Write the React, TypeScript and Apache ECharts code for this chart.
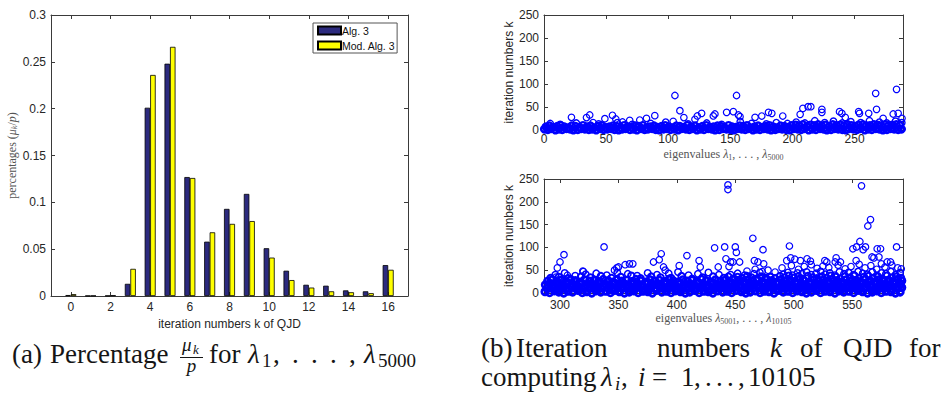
import { useEffect, useRef } from 'react';
import * as echarts from 'echarts';

// ---- Histogram: share of eigenvalues needing k QJD iterations ----
const iterK = [0, 1, 2, 3, 4, 5, 6, 7, 8, 9, 10, 11, 12, 13, 14, 15, 16];
const alg3 = [0.001, 0.0003, 0.0004, 0.013, 0.201, 0.248, 0.127, 0.058, 0.093, 0.109, 0.051, 0.027, 0.012, 0.011, 0.006, 0.005, 0.033];
const modAlg3 = [0.002, 0.0004, 0.0008, 0.029, 0.236, 0.266, 0.126, 0.068, 0.077, 0.080, 0.041, 0.017, 0.009, 0.005, 0.004, 0.003, 0.028];
const iterTicks = [0, 2, 4, 6, 8, 10, 12, 14, 16];

// ---- Iteration numbers per eigenvalue, lambda_1 .. lambda_5000 (flat x,y lists) ----
const upperBandLow = [0.3,2, 3.1,1, 5.8,3, 9.2,0, 12,2, 14.7,1, 18.1,3, 21,2, 23.6,0, 27.2,1, 30,3, 32.9,2, 36.1,1, 38.8,2, 42,0, 45.3,3, 47.9,1, 51,2, 54.2,3, 56.8,1, 60.1,0, 63,2, 65.7,3, 69.2,1, 72,2, 74.8,0, 78.1,3, 81,1, 83.7,2, 87.1,3, 90,1, 92.8,0, 96.2,2, 99,3, 101.7,1, 105.1,2, 108,0, 110.8,3, 114.2,2, 117,1, 119.9,3, 123.1,0, 126,2, 128.8,1, 132.2,3, 135,2, 137.7,0, 141.1,1, 144,3, 146.9,2, 150.2,1, 153,0, 155.8,3, 159.1,2, 162,1, 164.7,3, 168.2,0, 171,2, 173.9,1, 177.1,3, 180,2, 182.8,0, 186.2,1, 189,3, 191.7,2, 195.1,1, 198,0, 200.9,3, 204.2,2, 207,1, 209.8,3, 213.1,0, 216,2, 218.9,1, 222.2,3, 225,2, 227.7,0, 231.1,1, 234,3, 236.9,2, 240.2,1, 243,0, 245.8,3, 249.1,2, 252,1, 254.8,3, 258.2,0, 261,2, 263.9,1, 267.1,3, 270,2, 272.8,0, 276.1,1, 279,3, 281.9,2, 285.1,1, 287.8,2];
const upperBandHigh = [1.6,7, 4.4,9, 7.5,6, 10.6,8, 13.3,10, 16.4,7, 19.5,5, 22.3,9, 25.4,8, 28.6,6, 31.4,10, 34.5,7, 37.4,9, 40.6,5, 43.6,8, 46.5,10, 49.4,6, 52.6,7, 55.5,9, 58.4,8, 61.6,5, 64.5,10, 67.4,7, 70.6,6, 73.5,9, 76.4,8, 79.6,10, 82.4,5, 85.5,7, 88.6,9, 91.4,6, 94.6,8, 97.5,10, 100.4,7, 103.6,5, 106.5,9, 109.4,8, 112.6,6, 115.5,10, 118.4,7, 121.6,9, 124.5,5, 127.4,8, 130.6,10, 133.5,6, 136.4,7, 139.6,9, 142.5,8, 145.4,5, 148.6,10, 151.5,7, 154.4,6, 157.6,9, 160.5,8, 163.4,10, 166.6,5, 169.5,7, 172.4,9, 175.6,6, 178.5,8, 181.4,10, 184.6,7, 187.5,5, 190.4,9, 193.6,8, 196.5,6, 199.4,10, 202.6,11, 205.5,9, 208.4,12, 211.6,8, 214.5,11, 217.4,10, 220.6,12, 223.5,9, 226.4,11, 229.6,8, 232.5,12, 235.4,10, 238.6,11, 241.5,9, 244.4,12, 247.6,10, 250.5,8, 253.4,11, 256.6,12, 259.5,9, 262.4,10, 265.6,12, 268.5,11, 271.4,9, 274.6,12, 277.5,10, 280.4,11, 283.6,12, 286.5,10];
const upperMid = [5,14, 13,12, 26,15, 44,13, 59,16, 71,12, 86,14, 98,17, 116,13, 131,15, 143,12, 158,18, 167,14, 179,13, 187,16, 196,14, 203,17, 210,15, 218,20, 226,16, 233,19, 240,15, 247,18, 255,16, 262,20, 270,17, 276,15, 283,19, 288,16];
const upperSparse = [22.1,27.6, 34.2,27, 36.8,32.6, 39.5,16, 49,24.6, 55.1,32, 57.8,24, 63.2,17.4, 69,21, 77.1,21.7, 82.5,25.4, 89.2,31.2, 104,18.8, 105.4,75, 109.4,42, 112.6,27, 121.5,23.3, 123.4,30.5, 126.9,36.2, 136.3,30.5, 137.6,34.8, 147,38.4, 152.4,39.9, 155,75, 156.5,32.6, 157.8,29, 169.9,27.6, 175.3,30.4, 180.7,38.4, 183.4,36.2, 192.2,30.4, 206.2,34, 208.4,47, 212.6,50.7, 214.8,50.7, 223.7,44.9, 223.7,38.4, 237.9,39.9, 239.8,36.2, 242.5,27.5, 253.3,39.9, 254,36.2, 261.4,36.2, 267,79.7, 267.7,44.9, 273,25.4, 281.1,34.8, 283.8,88.4, 285.1,36.2, 288.2,25.4];
const upperTicks = [0, 50, 100, 150, 200, 250];

// ---- Iteration numbers per eigenvalue, lambda_5001 .. lambda_10105 ----
const lowerRowA = [287.2,3, 291.1,1, 295.3,5, 299.0,2, 303.2,0, 307.1,4, 310.8,2, 315.2,6, 319.1,1, 322.9,3, 327.2,0, 331.0,5, 334.9,2, 339.1,4, 343.2,1, 347.0,6, 350.8,3, 355.1,0, 359.2,2, 363.0,5, 366.9,1, 371.1,4, 375.2,3, 379.0,0, 382.8,6, 387.1,2, 391.2,4, 395.0,1, 398.9,5, 403.1,3, 407.2,0, 411.0,2, 414.9,6, 419.1,1, 423.2,4, 427.0,3, 430.8,0, 435.1,5, 439.2,2, 443.0,4, 446.9,1, 451.1,6, 455.2,3, 459.0,0, 462.8,2, 467.1,5, 471.2,1, 475.0,4, 478.9,3, 483.1,0, 487.2,6, 491.0,2, 494.9,4, 499.1,1, 503.2,5, 507.0,3, 510.8,0, 515.1,2, 519.2,6, 523.0,1, 526.9,4, 531.1,3, 535.2,0, 539.0,5, 542.8,2, 547.1,4, 551.2,1, 555.0,6, 558.9,3, 563.1,0, 567.2,2, 571.0,5, 574.9,1, 579.1,4, 583.2,3, 587.0,0, 591.0,2];
const lowerRowB = [289.1,10, 293.0,13, 297.2,8, 301.1,12, 304.9,9, 309.2,14, 313.0,11, 316.8,8, 321.1,13, 325.2,10, 329.0,12, 332.9,9, 337.1,14, 341.0,11, 344.8,8, 349.2,12, 353.1,10, 357.0,13, 360.9,9, 365.1,11, 369.2,14, 373.0,8, 376.8,12, 381.1,10, 385.2,13, 389.0,9, 392.9,11, 397.1,14, 401.0,8, 404.8,12, 409.2,10, 413.1,13, 417.0,9, 420.9,11, 425.1,14, 429.2,8, 433.0,12, 436.8,10, 441.1,13, 445.2,9, 449.0,11, 452.9,14, 457.1,8, 461.0,12, 464.8,10, 469.2,13, 473.1,9, 477.0,11, 480.9,14, 485.1,8, 489.2,12, 493.0,10, 496.8,13, 501.1,9, 505.2,11, 509.0,14, 512.9,8, 517.1,12, 521.0,10, 524.8,13, 529.2,9, 533.1,11, 537.0,14, 540.9,8, 545.1,12, 549.2,10, 553.0,13, 556.8,9, 561.1,11, 565.2,14, 569.0,8, 572.9,12, 577.1,10, 581.0,13, 584.8,9, 589.2,11, 592.4,12];
const lowerRowC = [287.5,18, 291.4,21, 295.0,16, 299.3,20, 303.1,17, 306.9,22, 311.2,19, 315.0,16, 318.8,21, 323.1,18, 327.0,20, 331.2,17, 335.1,22, 338.9,19, 343.0,16, 347.2,21, 351.1,18, 354.9,20, 359.0,17, 363.2,22, 367.1,19, 370.9,16, 375.0,21, 379.2,18, 383.1,20, 386.9,17, 391.0,22, 395.2,19, 399.1,16, 402.9,21, 407.0,18, 411.2,20, 415.1,17, 418.9,22, 423.0,19, 427.2,16, 431.1,21, 434.9,18, 439.0,20, 443.2,17, 447.1,22, 450.9,19, 455.0,16, 459.2,21, 463.1,18, 466.9,20, 471.0,17, 475.2,22, 479.1,19, 482.9,16, 487.0,21, 491.2,18, 495.1,20, 498.9,17, 503.0,22, 507.2,19, 511.1,16, 514.9,21, 519.0,18, 523.2,20, 527.1,17, 530.9,22, 535.0,19, 539.2,16, 543.1,21, 546.9,18, 551.0,20, 555.2,17, 559.1,22, 562.9,19, 567.0,16, 571.2,21, 575.1,18, 578.9,20, 583.0,17, 587.2,22, 591.1,19];
const lowerRowD = [289.4,26, 293.2,29, 297.1,24, 300.9,28, 305.0,25, 309.2,30, 313.1,27, 316.9,24, 321.0,29, 325.2,26, 329.1,28, 332.9,25, 337.0,30, 341.2,27, 345.1,24, 348.9,29, 353.0,26, 357.2,28, 361.1,25, 364.9,30, 369.0,27, 373.2,24, 377.1,29, 380.9,26, 385.0,28, 389.2,25, 393.1,30, 396.9,27, 401.0,24, 405.2,29, 409.1,26, 412.9,28, 417.0,25, 421.2,30, 425.1,27, 428.9,24, 433.0,29, 437.2,26, 441.1,28, 444.9,25, 449.0,30, 453.2,27, 457.1,24, 460.9,29, 465.0,26, 469.2,28, 473.1,25, 476.9,30, 481.0,27, 485.2,24, 489.1,29, 492.9,26, 497.0,28, 501.2,25, 505.1,30, 508.9,27, 513.0,24, 517.2,29, 521.1,26, 524.9,28, 529.0,25, 533.2,30, 537.1,27, 540.9,24, 545.0,29, 549.2,26, 553.1,28, 556.9,25, 561.0,30, 565.2,27, 569.1,24, 572.9,29, 577.0,26, 581.2,28, 585.1,25, 589.0,30, 592.5,27];
const lowerRowE = [440.2,33, 444.1,36, 448.0,31, 451.9,35, 456.1,32, 460.0,37, 463.8,34, 468.1,31, 472.0,36, 475.9,33, 480.1,35, 484.0,32, 488.2,37, 492.0,34, 495.9,38, 500.1,33, 504.0,36, 507.8,31, 512.1,37, 516.0,34, 519.9,32, 524.1,36, 528.0,33, 531.8,38, 536.1,35, 540.0,31, 543.9,36, 548.1,34, 552.0,38, 555.8,32, 560.1,35, 564.0,37, 567.9,33, 572.1,36, 576.0,31, 579.8,38, 584.1,34, 588.0,36, 591.8,33, 292,33, 299,35, 307,32, 318,36, 326,34, 335,37, 344,33, 352,35, 361,38, 369,32, 378,36, 386,34, 395,33, 404,37, 413,31, 422,34, 431,36];
const lowerRowF = [491.1,41, 495.0,45, 498.9,39, 503.2,44, 507.1,42, 511.0,46, 514.9,40, 519.2,43, 523.1,47, 527.0,41, 530.9,44, 535.2,39, 539.1,46, 543.0,42, 546.9,45, 551.2,40, 555.1,47, 559.0,43, 562.9,41, 567.2,46, 571.1,39, 575.0,44, 578.9,42, 583.2,47, 587.1,40, 591.0,45, 446,40, 452,43, 458,39, 466,42, 471,45, 296,40, 304,44, 313,38, 322,41, 331,43, 340,39, 349,45, 358,42, 366,38, 375,44, 383,40, 393,43, 401,46, 410,39, 418,42, 427,45, 436,40];
const lowerSparse = [443.7,237, 443.7,227, 558,235, 565.7,161, 563.4,147, 556.6,113, 550.6,97, 553.7,101, 559.4,95, 561.4,101, 571.4,97, 574.3,97, 588,101, 465,120, 432.3,99, 440.9,101, 450,101, 450.9,89, 473.7,95, 496.3,103, 337.7,101, 303.4,84, 300,68, 297.7,55, 386.6,86, 384.9,73, 380,68, 388.6,57, 390,50, 408.6,82, 402,60, 419,71, 420,57, 442,75, 453.7,68, 444.6,58, 466.3,71, 469.4,68, 474.3,64, 435.4,57, 494,71, 501,74, 505.7,71, 511.4,75, 514.3,70, 526.6,71, 536.3,77, 540,68, 553.4,71, 568.6,77, 572.9,79, 582.9,68, 592,53, 575,64, 348.6,55, 355.7,62, 359.4,64, 362.3,64, 346.6,50, 320,47, 306.3,39, 296.6,35, 319.5,48, 350,57, 446,68, 448,68, 497.4,77, 528.3,68, 535.5,68, 567,79, 579.9,68, 490,55, 498,60, 504,52, 509,58, 515,62, 520,54, 525,59, 530,56, 538,61, 544,53, 549,58, 556,63, 561,55, 566,60, 571,52, 578,57, 584,61, 589,55, 460,48, 467,52, 473,47, 478,50, 484,46];
const lowerTicks = [300, 350, 400, 450, 500, 550];

const SERIF = "'Liberation Serif', 'DejaVu Serif', serif";
const SANS = "'Liberation Sans', Arial, Helvetica, sans-serif";
const AXIS = '#3a3a3a';
const LABEL = '#262626';
const NAME_GRAY = '#555';
const BLUE = '#0000ff';

function toPairs(flat: number[]): number[][] {
  const out: number[][] = [];
  for (let i = 0; i + 1 < flat.length; i += 2) out.push([flat[i], flat[i + 1]]);
  return out;
}

const line = { show: true, onZero: false, lineStyle: { color: AXIS, width: 1 } };
const ticks = (custom?: number[]) => ({
  show: true,
  inside: true,
  length: 4,
  lineStyle: { color: AXIS, width: 1 },
  ...(custom ? { customValues: custom } : {}),
});
const labels = (margin: number, custom?: number[], extra: any = {}) => ({
  show: true,
  margin,
  fontFamily: SANS,
  fontSize: 12,
  color: LABEL,
  ...(custom ? { customValues: custom } : {}),
  ...extra,
});

// rich styles for small math labels on the axes
const mathRich = (size: number, color: string) => ({
  t: { fontFamily: SERIF, fontSize: size, color },
  i: { fontFamily: SERIF, fontSize: size, color, fontStyle: 'italic' },
  s: { fontFamily: SERIF, fontSize: Math.round(size * 0.7), color, verticalAlign: 'top', padding: [Math.round(size * 0.45), 0, 0, 0], lineHeight: size * 0.7 },
  si: { fontFamily: SERIF, fontSize: Math.round(size * 0.7), color, fontStyle: 'italic', verticalAlign: 'top', padding: [Math.round(size * 0.45), 0, 0, 0], lineHeight: size * 0.7 },
});

// ---- captions: each piece is placed on a baseline ----
const CAP = 27;
const SUB = 19;
const CAP_COLOR = '#151515';

type Piece = { x: number; t: string; size?: number; italic?: boolean; dy?: number; center?: boolean };

function capPieces(baseline: number, pieces: Piece[]) {
  return pieces.map((p) => {
    const size = p.size || CAP;
    const font = `${p.italic ? 'italic ' : ''}${size}px ${SERIF}`;
    const align = p.center ? 'center' : 'left';
    return {
      type: 'text',
      x: p.x,
      y: baseline + (p.dy || 0) - 0.34 * size,
      silent: true,
      style: {
        text: p.t,
        font,
        fill: CAP_COLOR,
        align,
        textAlign: align,
        verticalAlign: 'middle',
        textVerticalAlign: 'middle',
      },
    };
  });
}

function scatterSeries(data: number[], xi: number, width: number) {
  return {
    type: 'scatter',
    xAxisIndex: xi,
    yAxisIndex: xi,
    data: toPairs(data),
    symbol: 'circle',
    symbolSize: 6.5,
    clip: false,
    silent: true,
    itemStyle: { color: 'rgba(0,0,0,0)', borderColor: BLUE, borderWidth: width, opacity: 1 },
  };
}

export default function App() {
  const ref = useRef<HTMLDivElement>(null);

  useEffect(() => {
    if (!ref.current) return;
    const chart = echarts.init(ref.current, undefined, { renderer: 'svg' });

    const capA = 363.3;
    const capB1 = 356.7;
    const capB2 = 386.3;

    const option: any = {
      animation: false,
      backgroundColor: '#ffffff',
      grid: [
        { left: 51, top: 15, width: 357, height: 281, containLabel: false },
        { left: 544, top: 15, width: 359, height: 115, containLabel: false },
        { left: 544, top: 179, width: 359, height: 114, containLabel: false },
      ],
      legend: {
        data: ['Alg. 3', 'Mod. Alg. 3'],
        orient: 'vertical',
        left: 313,
        top: 23,
        itemWidth: 23,
        itemHeight: 8,
        itemGap: 4,
        padding: [2, 2, 2, 4],
        backgroundColor: '#fff',
        borderColor: '#555',
        borderWidth: 1,
        selectedMode: false,
        icon: 'rect',
        textStyle: { fontFamily: SANS, fontSize: 10.5, color: '#111', padding: [0, 0, 0, -4] },
      },
      xAxis: [
        {
          type: 'value', gridIndex: 0, min: -1, max: 17, position: 'bottom',
          axisLine: line, axisTick: ticks(iterTicks), axisLabel: labels(5, iterTicks), splitLine: { show: false },
          name: 'iteration numbers k of QJD', nameLocation: 'middle', nameGap: 15,
          nameTextStyle: { fontFamily: SANS, fontSize: 12, color: LABEL },
        },
        {
          type: 'value', gridIndex: 0, min: -1, max: 17, position: 'top',
          axisLine: line, axisTick: ticks(iterTicks), axisLabel: { show: false }, splitLine: { show: false },
        },
        {
          type: 'value', gridIndex: 1, min: 0, max: 289, position: 'bottom',
          axisLine: line, axisTick: ticks(upperTicks), axisLabel: labels(3, upperTicks), splitLine: { show: false },
          name: '{t|eigenvalues }{i|λ}{s|1}{t|, . . . , }{i|λ}{s|5000}', nameLocation: 'middle', nameGap: 18,
          nameTextStyle: { fontFamily: SERIF, fontSize: 12, color: NAME_GRAY, rich: mathRich(12, NAME_GRAY) },
        },
        {
          type: 'value', gridIndex: 1, min: 0, max: 289, position: 'top',
          axisLine: line, axisTick: ticks(upperTicks), axisLabel: { show: false }, splitLine: { show: false },
        },
        {
          type: 'value', gridIndex: 2, min: 286.3, max: 593.5, position: 'bottom',
          axisLine: line, axisTick: ticks(lowerTicks), axisLabel: labels(6, lowerTicks), splitLine: { show: false },
          name: '{t|eigenvalues }{i|λ}{s|5001}{t|, . . . , }{i|λ}{s|10105}', nameLocation: 'middle', nameGap: 19,
          nameTextStyle: { fontFamily: SERIF, fontSize: 12, color: NAME_GRAY, rich: mathRich(12, NAME_GRAY) },
        },
        {
          type: 'value', gridIndex: 2, min: 286.3, max: 593.5, position: 'top',
          axisLine: line, axisTick: ticks(lowerTicks), axisLabel: { show: false }, splitLine: { show: false },
        },
      ],
      yAxis: [
        {
          type: 'value', gridIndex: 0, min: 0, max: 0.3, interval: 0.05, position: 'left',
          axisLine: line, axisTick: ticks(),
          axisLabel: labels(5, undefined, { formatter: (v: number) => (v === 0 ? '0' : String(+v.toFixed(2))) }),
          splitLine: { show: false },
          name: '{t|percentages (}{i|μ}{si|k}{t|/}{i|p}{t|)}', nameLocation: 'middle', nameGap: 29,
          nameTextStyle: { fontFamily: SERIF, fontSize: 12, color: NAME_GRAY, rich: mathRich(12, NAME_GRAY) },
        },
        {
          type: 'value', gridIndex: 0, min: 0, max: 0.3, interval: 0.05, position: 'right',
          axisLine: line, axisTick: ticks(), axisLabel: { show: false }, splitLine: { show: false },
        },
        {
          type: 'value', gridIndex: 1, min: 0, max: 250, interval: 50, position: 'left',
          axisLine: line, axisTick: ticks(), axisLabel: labels(5), splitLine: { show: false },
          name: 'iteration numbers k', nameLocation: 'middle', nameGap: 26,
          nameTextStyle: { fontFamily: SANS, fontSize: 12, color: LABEL },
        },
        {
          type: 'value', gridIndex: 1, min: 0, max: 250, interval: 50, position: 'right',
          axisLine: line, axisTick: ticks(), axisLabel: { show: false }, splitLine: { show: false },
        },
        {
          type: 'value', gridIndex: 2, min: 0, max: 250, interval: 50, position: 'left',
          axisLine: line, axisTick: ticks(), axisLabel: labels(5), splitLine: { show: false },
          name: 'iteration numbers k', nameLocation: 'middle', nameGap: 26,
          nameTextStyle: { fontFamily: SANS, fontSize: 12, color: LABEL },
        },
        {
          type: 'value', gridIndex: 2, min: 0, max: 250, interval: 50, position: 'right',
          axisLine: line, axisTick: ticks(), axisLabel: { show: false }, splitLine: { show: false },
        },
      ],
      series: [
        {
          name: 'Alg. 3', type: 'bar', xAxisIndex: 0, yAxisIndex: 0,
          data: iterK.map((k, i) => [k, alg3[i]]),
          barWidth: 5.5, barGap: '0%', silent: true,
          itemStyle: { color: '#2c2a7e', borderColor: '#000', borderWidth: 0.8 },
        },
        {
          name: 'Mod. Alg. 3', type: 'bar', xAxisIndex: 0, yAxisIndex: 0,
          data: iterK.map((k, i) => [k, modAlg3[i]]),
          barWidth: 5.5, barGap: '0%', silent: true,
          itemStyle: { color: '#ffff00', borderColor: '#000', borderWidth: 0.8 },
        },
        scatterSeries(upperBandLow, 2, 2.6),
        scatterSeries(upperBandHigh, 2, 2.4),
        scatterSeries(upperMid, 2, 1.4),
        scatterSeries(upperSparse, 2, 1.2),
        scatterSeries(lowerRowA, 4, 2.8),
        scatterSeries(lowerRowB, 4, 2.8),
        scatterSeries(lowerRowC, 4, 2.8),
        scatterSeries(lowerRowD, 4, 2.6),
        scatterSeries(lowerRowE, 4, 2.0),
        scatterSeries(lowerRowF, 4, 1.5),
        scatterSeries(lowerSparse, 4, 1.2),
      ],
      graphic: [
        // (a) Percentage mu_k / p for lambda_1, ..., lambda_5000
        ...capPieces(capA, [
          { x: 12, t: '(a)' },
          { x: 50, t: 'Percentage' },
          { x: 182, t: 'μ', size: SUB, italic: true, dy: -12 },
          { x: 193, t: 'k', size: 13, italic: true, dy: -9.5 },
          { x: 191.5, t: 'p', size: SUB, italic: true, dy: 8.5, center: true },
          { x: 209, t: 'for' },
          { x: 248, t: 'λ', italic: true },
          { x: 262, t: '1', size: SUB, dy: 4 },
          { x: 273, t: ',' },
          { x: 292, t: '.' },
          { x: 311, t: '.' },
          { x: 330, t: '.' },
          { x: 349, t: ',' },
          { x: 364, t: 'λ', italic: true },
          { x: 378, t: '5000', size: SUB, dy: 4 },
        ]),
        { type: 'line', silent: true, shape: { x1: 180, y1: 357.5, x2: 203, y2: 357.5 }, style: { stroke: CAP_COLOR, lineWidth: 1 } },
        // (b) Iteration numbers k of QJD for / computing lambda_i, i = 1, ..., 10105
        ...capPieces(capB1, [
          { x: 481, t: '(b)' },
          { x: 516, t: 'Iteration' },
          { x: 657, t: 'numbers' },
          { x: 770, t: 'k', italic: true },
          { x: 800, t: 'of' },
          { x: 843, t: 'QJD' },
          { x: 909, t: 'for' },
        ]),
        ...capPieces(capB2, [
          { x: 481, t: 'computing' },
          { x: 601, t: 'λ', italic: true },
          { x: 615, t: 'i', size: SUB, italic: true, dy: 4 },
          { x: 621, t: ',' },
          { x: 638, t: 'i', italic: true },
          { x: 652, t: '=' },
          { x: 681, t: '1' },
          { x: 694, t: ',' },
          { x: 705, t: '.' },
          { x: 716, t: '.' },
          { x: 727, t: '.' },
          { x: 738, t: ',' },
          { x: 748, t: '10105' },
        ]),
      ],
    };

    chart.setOption(option);
    return () => chart.dispose();
  }, []);

  return (
    <div
      ref={ref}
      style={{ position: 'absolute', left: 0, top: 0, width: 947, height: 394, background: '#fff' }}
    />
  );
}
